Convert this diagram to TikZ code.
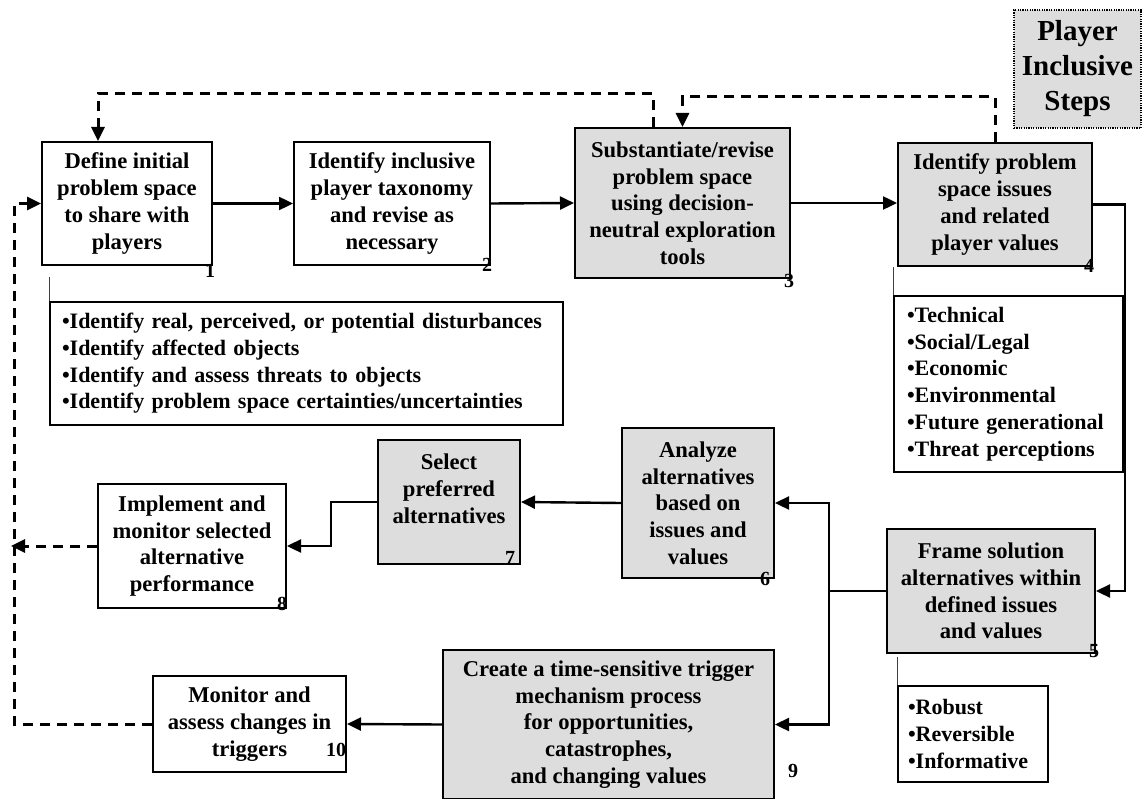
\documentclass[tikz,border=0pt]{standalone}
\usepackage{fontspec}
\setmainfont{Liberation Serif}
\usetikzlibrary{positioning,arrows.meta,calc}
\definecolor{boxgray}{RGB}{221,221,221}

\begin{document}
\begin{tikzpicture}[x=1pt, y=-1pt,
    stepbox/.style={draw, line width=2pt, align=center, inner sep=2pt,
                font=\fontsize{22.6}{26.7}\selectfont\bfseries},
    incbox/.style={stepbox, fill=boxgray},
    listbox/.style={draw, line width=1.5pt, align=left, inner ysep=4pt,
                font=\fontsize{22}{26.7}\selectfont\bfseries},
    num/.style={inner sep=0pt, font=\fontsize{20}{20}\selectfont\bfseries},
    conn/.style={line width=2.4pt, -{Triangle[length=14pt,width=13pt]}},
    fb/.style={line width=3pt, dash pattern=on 10pt off 7pt, line join=miter,
                -{Triangle[length=14pt,width=13pt]}},
    tick/.style={line width=1.3pt, black!75}
]
\useasboundingbox (0,0) rectangle (1142,799);

% steps
\node[stepbox, minimum width=170pt, minimum height=123pt] (b1) at (127,203.5)
    {Define initial\\problem space\\to share with\\players};
\node[stepbox, minimum width=196pt, minimum height=123pt] (b2) at (392,203.5)
    {Identify inclusive\\player taxonomy\\and revise as\\necessary};
\node[incbox, minimum width=215pt, minimum height=150pt] (b3) at (682.5,203)
    {Substantiate/revise\\problem space\\using decision-\\neutral exploration\\tools};
\node[incbox, minimum width=194pt, minimum height=123pt] (b4) at (995,204.5)
    {Identify problem\\space issues\\and related\\player values};
\node[incbox, minimum width=208pt, minimum height=124pt] (b5) at (991,591)
    {Frame solution\\alternatives within\\defined issues\\and values};
\node[incbox, minimum width=152pt, minimum height=150pt] (b6) at (698,503)
    {Analyze\\alternatives\\based on\\issues and\\values};
\node[incbox, minimum width=142pt, minimum height=124pt] (b7) at (449,502)
    {Select\\preferred\\alternatives\\~};
\node[stepbox, minimum width=188pt, minimum height=124pt] (b8) at (192,546)
    {Implement and\\monitor selected\\alternative\\performance};
\node[incbox, minimum width=331pt, minimum height=149pt] (b9) at (608.5,724.5)
    {Create a time-sensitive trigger\\mechanism process\\for opportunities,\\catastrophes,\\and changing values};
\node[stepbox, minimum width=193pt, minimum height=96pt] (b10) at (249.5,724)
    {Monitor and\\assess changes in\\triggers};

% legend
\node[incbox, draw, dash pattern=on 1.2pt off 1.2pt, line width=1.4pt,
      minimum width=127pt, minimum height=118pt,
      font=\fontsize{29}{35}\selectfont\bfseries] (key) at (1077.5,69)
    {Player\\Inclusive\\Steps};

% step numbers
\node[num] (n1) at ([shift={(-3,5)}]b1.south east) {1};
\node[num] (n2) at ([shift={(-4,-1)}]b2.south east) {2};
\node[num] (n3) at ([shift={(-2,2)}]b3.south east) {3};
\node[num] (n4) at ([shift={(-4,-1)}]b4.south east) {4};
\node[num] (n5) at ([shift={(-2,-3)}]b5.south east) {5};
\node[num] (n6) at ([shift={(-10,0)}]b6.south east) {6};
\node[num] (n7) at ([shift={(-11,-7)}]b7.south east) {7};
\node[num] (n8) at ([shift={(-5,-5)}]b8.south east) {8};
\node[num] (n9) at ([shift={(18,-29)}]b9.south east) {9};
\node[num] (n10) at ([shift={(-11,-23)}]b10.south east) {10};

% detail lists
\node[listbox, inner xsep=12pt, text width=489pt, minimum height=123pt] (l1) at (306.5,363.5)
    {\textbullet Identify real, perceived, or potential disturbances\\
     \textbullet Identify affected objects\\
     \textbullet Identify and assess threats to objects\\
     \textbullet Identify problem space certainties/uncertainties};
\node[listbox, inner xsep=13pt, text width=203pt, minimum height=176pt] (l4) at (1008.5,384)
    {\textbullet Technical\\\textbullet Social/Legal\\\textbullet Economic\\
     \textbullet Environmental\\\textbullet Future generational\\\textbullet Threat perceptions};
\node[listbox, inner xsep=10pt, text width=130pt, minimum height=96pt] (l5) at (973,734)
    {\textbullet Robust\\\textbullet Reversible\\\textbullet Informative};
\draw[tick] (l1.north west) -- ++(0,-24);
\draw[tick] (l4.north west) -- (l4.north west |- b4.south);
\draw[tick] (l5.north west) -- ++(0,-28);

% main flow
\draw[conn] (b1.east) -- (b2.west);
\draw[conn] (b2.east) -- (b3.west);
\draw[conn] (b3.east) -- (b3.east -| b4.west);
\draw[conn] (b4.east) -- ++(32,0) |- (b5.east);
\draw[line width=2.4pt] (b5.west) -- ++(-57,0) coordinate (split);
\draw[conn] (split) |- (b6.east);
\draw[conn] (split) |- (b9.east);
\draw[conn] (b6.west) -- (b7.east);
\draw[conn] (b7.west) -- ++(-46,0) |- (b8.east);
\draw[conn] (b9.west) -- (b10.east);

% feedback loops
\coordinate (rail) at (14,724);
\draw[fb] (b10.west) -- (rail) |- (b1.west);
\draw[fb, shorten >=-3pt] (b8.west) -- (b8.west -| rail);
\draw[fb] ([xshift=-29.5pt]b3.north) -- ++(0,-33) -| ([xshift=-29pt]b1.north);
\draw[fb] (b4.north) -- ++(0,-45) -| (b3.north);
\end{tikzpicture}
\end{document}
